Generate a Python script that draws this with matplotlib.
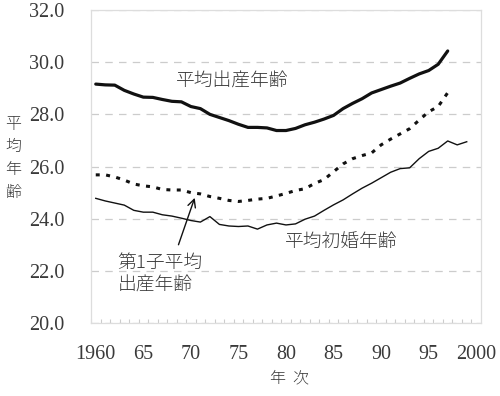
"""
plot.py - mean maternal age chart (平均出産年齢 / 第1子 / 初婚), saved as out.png.
"""
import matplotlib
matplotlib.use("Agg")
import matplotlib.pyplot as plt

plt.rcParams["font.family"] = ["Noto Sans CJK JP", "DejaVu Sans"]

# data, one value per year
YEARS_A = list(range(1960, 1998))
MEAN_BIRTH_AGE = [
    29.16, 29.13, 29.12, 28.92, 28.78, 28.66, 28.65, 28.57, 28.50, 28.48,
    28.30, 28.22, 28.00, 27.88, 27.76, 27.62, 27.50, 27.50, 27.48, 27.38,
    27.38, 27.46, 27.60, 27.70, 27.82, 27.96, 28.22, 28.42, 28.60, 28.82,
    28.95, 29.08, 29.20, 29.38, 29.55, 29.68, 29.92, 30.43,
]
FIRST_BIRTH_AGE = [
    25.68, 25.68, 25.60, 25.48, 25.33, 25.26, 25.22, 25.12, 25.10, 25.10,
    25.00, 24.95, 24.85, 24.78, 24.70, 24.66, 24.70, 24.75, 24.78, 24.87,
    24.97, 25.08, 25.15, 25.35, 25.50, 25.80, 26.10, 26.30, 26.42, 26.52,
    26.83, 27.05, 27.25, 27.45, 27.78, 28.10, 28.30, 28.83,
]
YEARS_B = list(range(1960, 2000))
FIRST_MARRIAGE_AGE = [
    24.78, 24.68, 24.60, 24.52, 24.32, 24.25, 24.25, 24.15, 24.10, 24.02,
    23.93, 23.87, 24.08, 23.78, 23.72, 23.70, 23.72, 23.60, 23.76, 23.83,
    23.76, 23.80, 23.98, 24.10, 24.32, 24.53, 24.72, 24.95, 25.17, 25.36,
    25.57, 25.78, 25.92, 25.95, 26.30, 26.58, 26.70, 26.98, 26.83, 26.95,
]
XTICKS = [1960, 1965, 1970, 1975, 1980, 1985, 1990, 1995, 2000]
XTICK_LABELS = ["1960", "65", "70", "75", "80", "85", "90", "95", "2000"]
YTICKS = [20, 22, 24, 26, 28, 30, 32]

INK = "#111111"
TEXT = "#3a3a3a"
GRID = "#cccccc"
SERIF = ["Liberation Serif", "DejaVu Serif"]

fig = plt.figure(figsize=(5.0, 3.96), dpi=100)
ax = fig.add_axes([0.182, 0.1843, 0.78, 0.7904])

ax.plot(YEARS_A, MEAN_BIRTH_AGE, color=INK, lw=2.3, solid_capstyle="round")
ax.plot(YEARS_A, FIRST_BIRTH_AGE, color=INK, lw=2.2, linestyle=(0, (1.3, 2.1)))
ax.plot(YEARS_B, FIRST_MARRIAGE_AGE, color=INK, lw=1.0)

ax.set_xlim(1959.5, 2000.5)
ax.set_ylim(20, 32)
ax.set_yticks(YTICKS)
ax.set_yticklabels([f"{v:.1f}" for v in YTICKS], family=SERIF, fontsize=14.5, color=TEXT)
ax.set_xticks(XTICKS)
ax.set_xticklabels(XTICK_LABELS, family=SERIF, fontsize=14.5, color=TEXT)
ax.set_xticks([y + 0.5 for y in range(1959, 2000)], minor=True)
ax.tick_params(axis="y", length=0, pad=19)
ax.tick_params(axis="x", which="major", length=0, pad=16)
ax.tick_params(axis="x", which="minor", direction="in", length=3, color=GRID, width=0.8)

ax.yaxis.grid(True, color=GRID, linestyle=(0, (6, 5)), lw=0.9)
for s in ax.spines.values():
    s.set_color("#dddddd")
    s.set_linewidth(0.9)

# labels on the curves
lbl = dict(fontsize=13.5, color=TEXT, fontweight="light")
ax.text(1974.3, 29.24, "平均出産年齢", ha="center", va="center", **lbl)
ax.text(1985.8, 23.1, "平均初婚年齢", ha="center", va="center", **lbl)
ax.text(1962.3, 21.86, "第1子平均\n出産年齢", ha="left", va="center", linespacing=1.3, **lbl)
ax.annotate("", xy=(1970.5, 24.9), xytext=(1968.6, 22.9),
            arrowprops=dict(arrowstyle="->", color=INK, lw=1.0, mutation_scale=14))

fig.text(0.58, 0.045, "年  次", fontsize=11.5, color=TEXT, fontweight="light",
         ha="center", va="center")
fig.text(0.026, 0.60, "平\n均\n年\n齢", fontsize=11.5, color=TEXT, fontweight="light",
         ha="center", va="center", linespacing=1.45)

fig.savefig("out.png", dpi=100)
